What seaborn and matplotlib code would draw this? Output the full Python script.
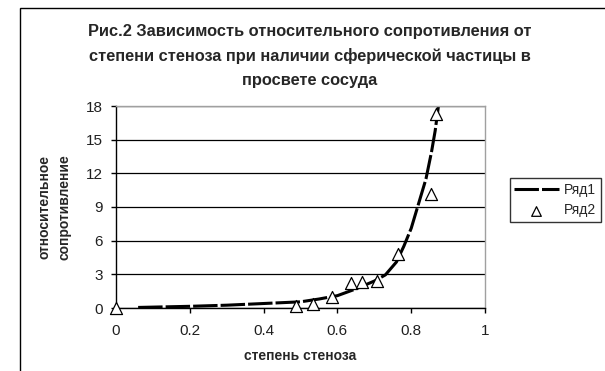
import matplotlib
matplotlib.use("Agg")
import matplotlib.pyplot as plt
import seaborn as sns
import pandas as pd
from matplotlib.patches import Rectangle

# Ряд1 — расчётная кривая (точки)
curve_x = [0.06, 0.2, 0.3, 0.4, 0.5, 0.55, 0.6, 0.65, 0.7, 0.73, 0.76,
           0.78, 0.8, 0.82, 0.84, 0.855, 0.865, 0.875]
curve_y = [0.05, 0.15, 0.25, 0.4, 0.55, 0.8, 1.1, 1.7, 2.4, 2.95, 4.1,
           5.5, 7.1, 9.3, 11.5, 13.9, 15.8, 18.3]

# Ряд2 — экспериментальные точки
pts_x = [0.0, 0.489, 0.535, 0.586, 0.638, 0.668, 0.707, 0.764, 0.855, 0.868]
pts_y = [0.0, 0.2, 0.4, 1.0, 2.2, 2.35, 2.4, 4.8, 10.2, 17.3]

x_ticks = [0, 0.2, 0.4, 0.6, 0.8, 1]
y_ticks = [0, 3, 6, 9, 12, 15, 18]

title = ("Рис.2 Зависимость относительного сопротивления от\n"
         "степени стеноза при наличии сферической частицы в\n"
         "просвете сосуда")

sns.set_style("white")
plt.rcParams["font.family"] = ["Liberation Sans", "DejaVu Sans"]

curve = pd.DataFrame({"x": curve_x, "y": curve_y})
points = pd.DataFrame({"x": pts_x, "y": pts_y})

fig = plt.figure(figsize=(6.05, 3.71), dpi=100)
ax = fig.add_axes([116 / 605, 1 - 308 / 371, (485 - 116) / 605, (308 - 106) / 371])

# внешняя рамка диаграммы
fig.patches.append(Rectangle((20 / 605, -0.1), 1.2, 1 - 8 / 371 + 0.1,
                             transform=fig.transFigure, fill=False,
                             edgecolor="black", linewidth=1.0))

sns.lineplot(data=curve, x="x", y="y", ax=ax, color="black", linewidth=2.2,
             label="Ряд1", dashes=False, sort=False)
ax.lines[-1].set_dashes((8, 1))
sns.scatterplot(data=points, x="x", y="y", ax=ax, marker="^", s=75,
                facecolor="white", edgecolor="black", linewidth=0.9,
                label="Ряд2", zorder=5, clip_on=False)

ax.set_xlim(0, 1)
ax.set_ylim(0, 18)
ax.set_xticks(x_ticks)
ax.set_xticklabels([f"{t:g}" for t in x_ticks])
ax.set_yticks(y_ticks)
ax.tick_params(axis="both", direction="out", length=3.5, width=1,
               color="black", labelsize=11, bottom=True, left=True,
               labelcolor="#202020")
ax.tick_params(axis="x", pad=8)
ax.tick_params(axis="y", pad=6)
ax.yaxis.grid(True, color="black", linewidth=0.9)
ax.set_axisbelow(True)
for side in ["left", "bottom"]:
    ax.spines[side].set_color("black")
    ax.spines[side].set_linewidth(1)
for side in ["top", "right"]:
    ax.spines[side].set_color("#a0a0a0")
    ax.spines[side].set_linewidth(1)

ax.set_xlabel("степень стеноза", fontsize=10, fontweight="bold", labelpad=8)
ax.set_ylabel("относительное\nсопротивление", fontsize=10, fontweight="bold",
              labelpad=10, linespacing=1.6)

fig.text(310 / 605, 1 - 24 / 371, title, ha="center", va="top",
         fontsize=11.8, fontweight="bold", linespacing=1.72)

leg = ax.legend(loc="center left", bbox_to_anchor=(503 / 605, 1 - 200 / 371),
                bbox_transform=fig.transFigure, frameon=True, fancybox=False,
                fontsize=10, handlelength=3.2, borderpad=0.3,
                labelspacing=0.5, handletextpad=0.4, markerscale=0.8)
leg.get_frame().set_edgecolor("black")
leg.get_frame().set_linewidth(1)

fig.savefig("out.png", dpi=100)
